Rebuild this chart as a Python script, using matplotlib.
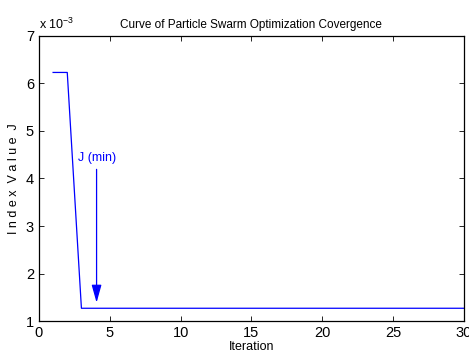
import matplotlib
matplotlib.use("Agg")
import matplotlib.pyplot as plt

# convergence curve (values in units of 1e-3)
iteration = [1, 2, 3, 4, 5, 10, 15, 20, 25, 30]
index_value = [6.23, 6.23, 1.27, 1.27, 1.27, 1.27, 1.27, 1.27, 1.27, 1.27]

plt.rcParams['font.family'] = ['Liberation Sans', 'DejaVu Sans']

fig = plt.figure(figsize=(4.69, 3.62), dpi=100)
ax = fig.add_axes([0.083, 0.113, 0.906, 0.788])

ax.plot(iteration, index_value, color='#0000ff', linewidth=0.9)

ax.annotate('', xy=(4.07, 1.33), xytext=(4.07, 4.25),
            arrowprops=dict(arrowstyle='-|>,head_length=0.9,head_width=0.25',
                            color='#0000ff', lw=0.9, mutation_scale=12))
ax.text(4.07, 4.42, 'J (min)', color='#0000ff', fontsize=9,
        ha='center', va='center')

ax.set_xlim(0, 30)
ax.set_ylim(1, 7)
ax.set_xticks(range(0, 31, 5))
ax.set_yticks(range(1, 8))
ax.tick_params(direction='in', top=True, right=True, labelsize=10.5, length=3.5, width=0.6)
for s in ax.spines.values():
    s.set_linewidth(0.9)

ax.set_title('Curve of Particle Swarm Optimization Covergence', fontsize=8.5, pad=6)
ax.set_xlabel('Iteration', fontsize=9, labelpad=1)
ax.set_ylabel('I n d e x  V a l u e  J', fontsize=9, labelpad=4)
ax.text(0.0, 1.012, r'x 10$^{\mathregular{-3}}$', transform=ax.transAxes,
        fontsize=9, ha='left', va='bottom')

fig.savefig('out.png', dpi=100)
